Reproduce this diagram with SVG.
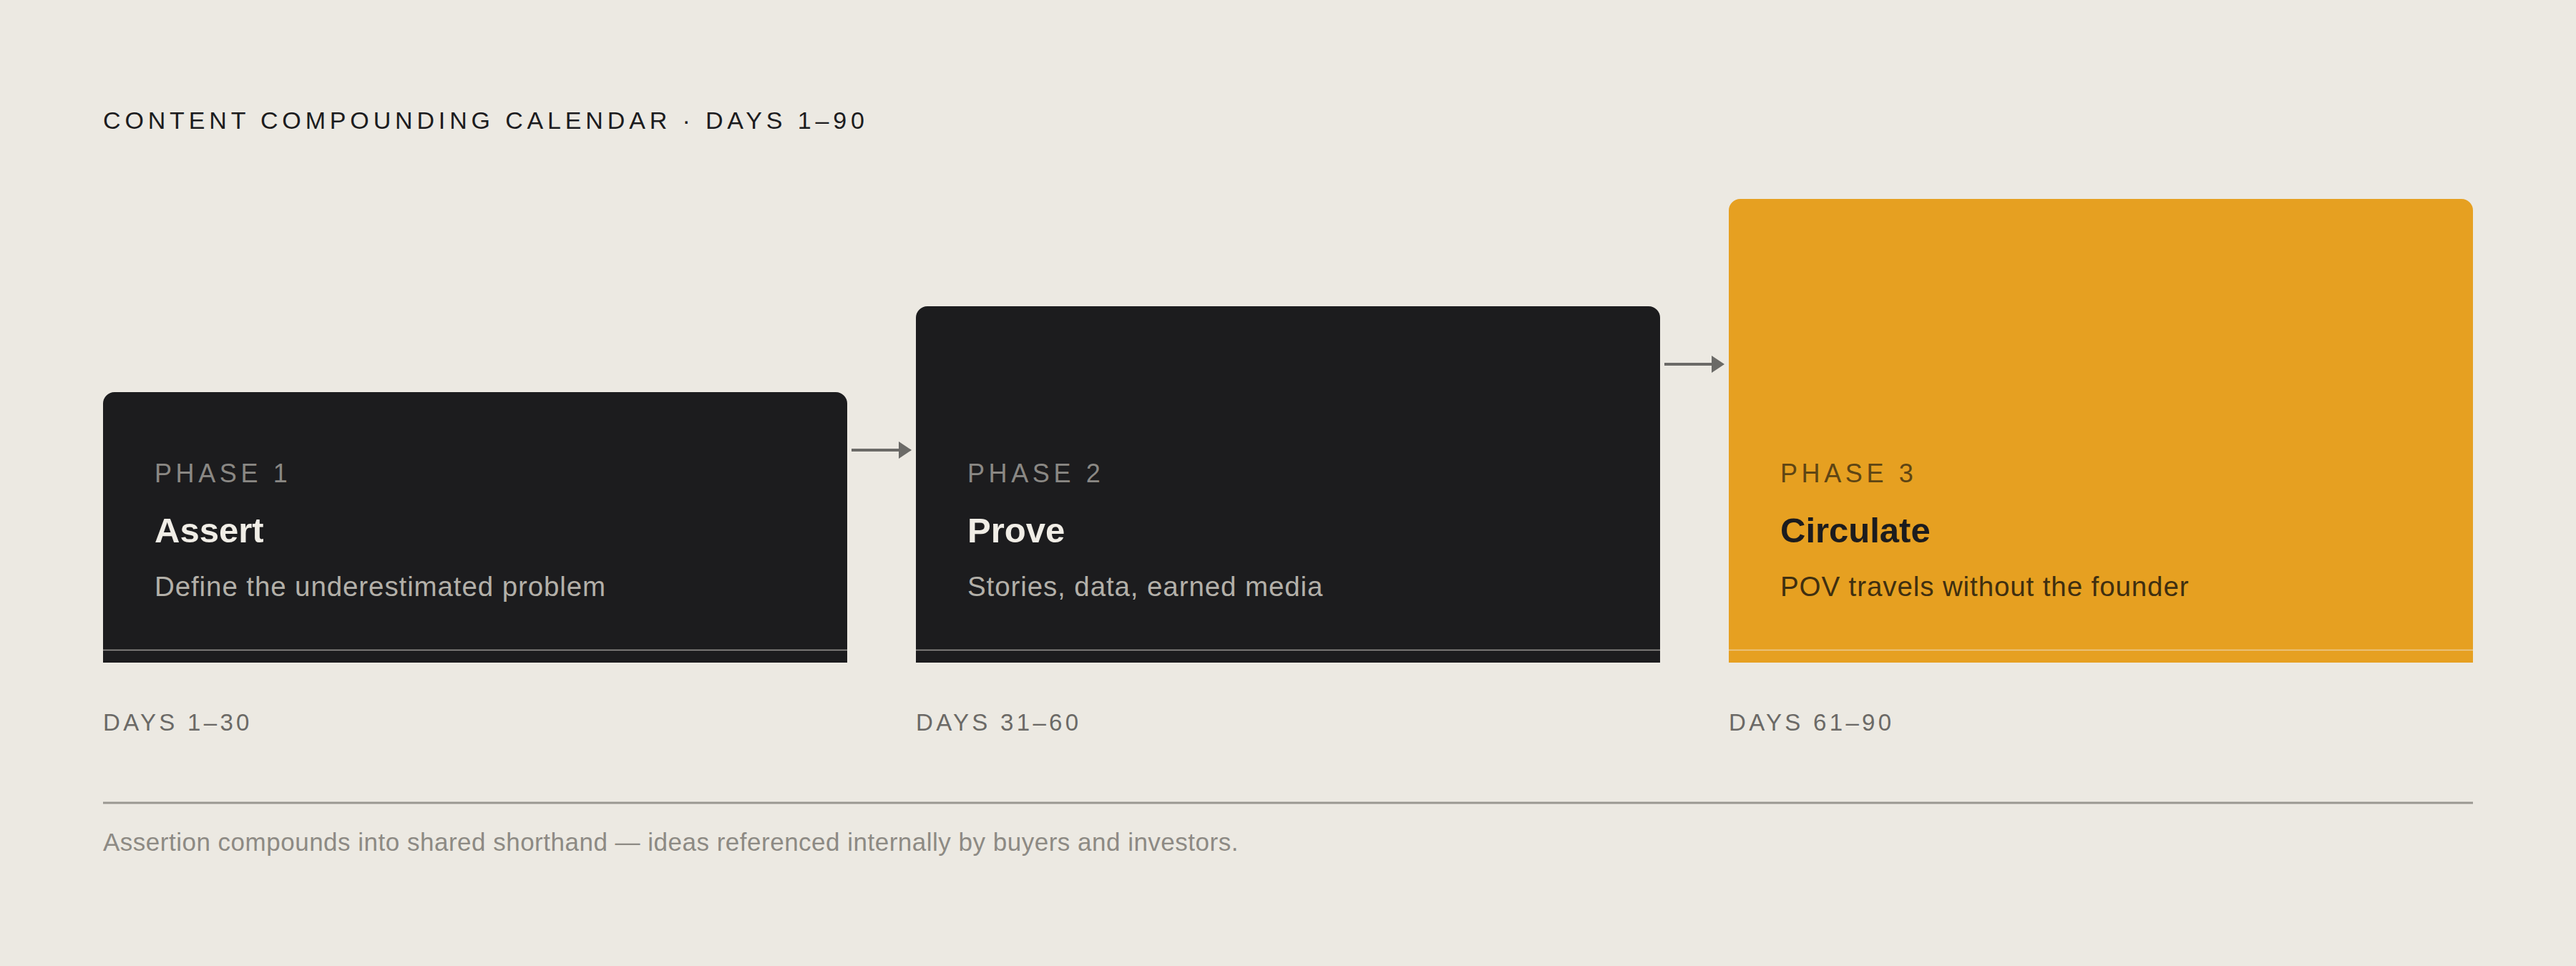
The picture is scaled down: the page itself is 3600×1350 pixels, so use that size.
<svg xmlns="http://www.w3.org/2000/svg" width="3600" height="1350" viewBox="0 0 3600 1350">
  <defs>
    <marker id="arrow" viewBox="0 0 18 24" markerWidth="18" markerHeight="24" refX="0" refY="12" orient="auto" markerUnits="userSpaceOnUse">
      <path d="M0,0 L18,12 L0,24 Z" fill="#6b6a67"/>
    </marker>
    <style>
      text { font-family: "Liberation Sans", "Noto Sans", sans-serif; }
      .title { font-size: 34px; letter-spacing: 5.85px; fill: #1c1c1e; }
      .phase { font-size: 36px; letter-spacing: 5.6px; }
      .name { font-size: 49px; font-weight: 700; }
      .desc { font-size: 38.5px; letter-spacing: 0.9px; }
      .days { font-size: 33px; letter-spacing: 4.3px; fill: #6b6966; }
      .caption { font-size: 35px; letter-spacing: 0.5px; fill: #8d8a84; }
      .dark { fill: #1c1c1e; }
      .gold { fill: #e6a021; }
      .sep { stroke: #ece9e2; stroke-opacity: 0.6; stroke-width: 1.5; }
      .conn { stroke: #6b6a67; stroke-width: 4; fill: none; }
    </style>
  </defs>
  <rect x="0" y="0" width="3600" height="1350" fill="#ece9e2"/>

  <text class="title" x="144" y="180">CONTENT COMPOUNDING CALENDAR · DAYS 1–90</text>

  <g id="phase1">
    <path class="dark" d="M144,926 V564 A16,16 0 0 1 160,548 H1168 A16,16 0 0 1 1184,564 V926 Z"/>
    <line class="sep" x1="144" y1="908.5" x2="1184" y2="908.5"/>
    <text class="phase" x="216" y="674" fill="#8a8884">PHASE 1</text>
    <text class="name" x="216" y="758" fill="#f0ede6">Assert</text>
    <text class="desc" x="216" y="833" fill="#b3b0a9">Define the underestimated problem</text>
    <text class="days" x="144" y="1021">DAYS 1–30</text>
  </g>

  <g id="phase2">
    <path class="dark" d="M1280,926 V444 A16,16 0 0 1 1296,428 H2304 A16,16 0 0 1 2320,444 V926 Z"/>
    <line class="sep" x1="1280" y1="908.5" x2="2320" y2="908.5"/>
    <text class="phase" x="1352" y="674" fill="#8a8884">PHASE 2</text>
    <text class="name" x="1352" y="758" fill="#f0ede6">Prove</text>
    <text class="desc" x="1352" y="833" fill="#b3b0a9">Stories, data, earned media</text>
    <text class="days" x="1280" y="1021">DAYS 31–60</text>
  </g>

  <g id="phase3">
    <path class="gold" d="M2416,926 V294 A16,16 0 0 1 2432,278 H3440 A16,16 0 0 1 3456,294 V926 Z"/>
    <line class="sep" x1="2416" y1="908.5" x2="3456" y2="908.5"/>
    <text class="phase" x="2488" y="674" fill="#5e4514">PHASE 3</text>
    <text class="name" x="2488" y="758" fill="#1c1c1e">Circulate</text>
    <text class="desc" x="2488" y="833" fill="#3f2f10">POV travels without the founder</text>
    <text class="days" x="2416" y="1021">DAYS 61–90</text>
  </g>

  <g id="connectors">
    <line class="conn" x1="1190" y1="629" x2="1256" y2="629" marker-end="url(#arrow)"/>
    <line class="conn" x1="2326" y1="509" x2="2392" y2="509" marker-end="url(#arrow)"/>
  </g>

  <line x1="144" y1="1122" x2="3456" y2="1122" stroke="#9a9891" stroke-width="3"/>
  <text class="caption" x="144" y="1189">Assertion compounds into shared shorthand — ideas referenced internally by buyers and investors.</text>
</svg>
